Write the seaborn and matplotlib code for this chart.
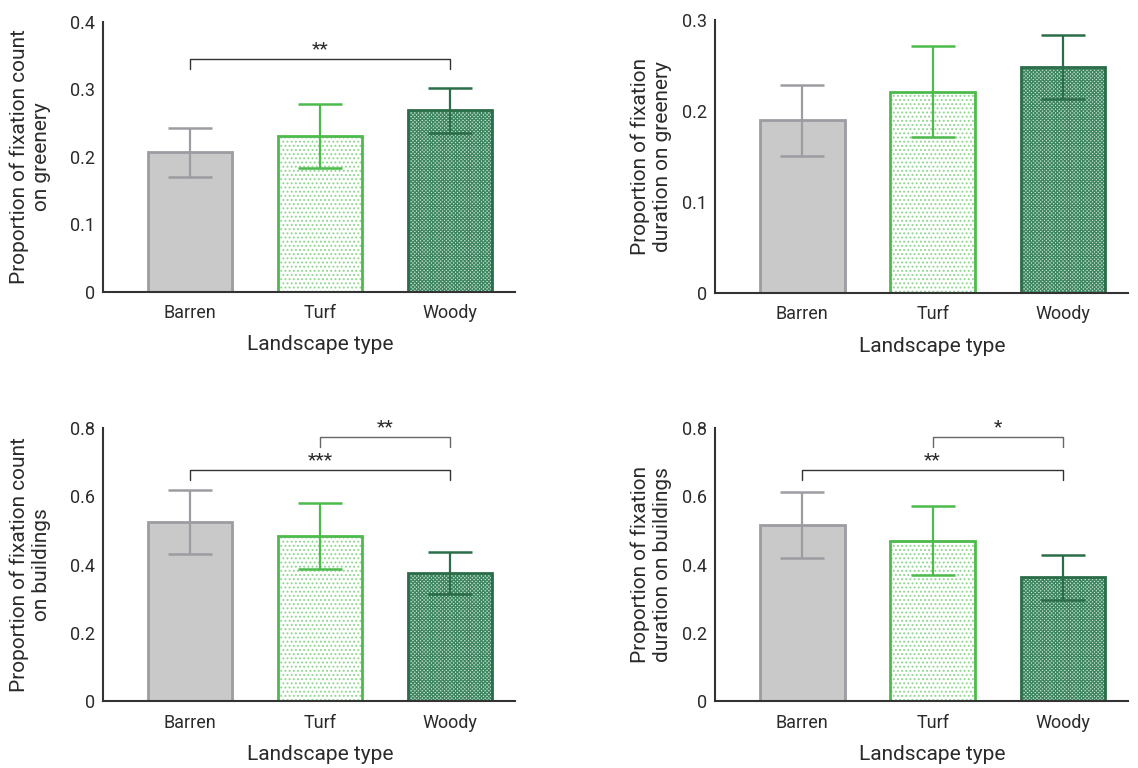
import numpy as np
import pandas as pd
import matplotlib
matplotlib.use("Agg")
import matplotlib.pyplot as plt
from matplotlib.patches import Rectangle
import seaborn as sns

# ---- data -------------------------------------------------------------
categories = ["Barren", "Turf", "Woody"]

count_greenery_mean = [0.207, 0.231, 0.269]
count_greenery_err = [0.036, 0.047, 0.033]

duration_greenery_mean = [0.190, 0.221, 0.248]
duration_greenery_err = [0.039, 0.050, 0.035]

count_buildings_mean = [0.524, 0.484, 0.375]
count_buildings_err = [0.094, 0.097, 0.062]

duration_buildings_mean = [0.515, 0.470, 0.363]
duration_buildings_err = [0.097, 0.102, 0.066]

y_labels = [
    "Proportion of fixation count\non greenery",
    "Proportion of fixation\nduration on greenery",
    "Proportion of fixation count\non buildings",
    "Proportion of fixation\nduration on buildings",
]
y_ticks_greenery_count = [0, 0.1, 0.2, 0.3, 0.4]
y_ticks_greenery_duration = [0, 0.1, 0.2, 0.3]
y_ticks_buildings = [0, 0.2, 0.4, 0.6, 0.8]

# significance brackets: (left category, right category, height, label)
sig_count_greenery = [("Barren", "Woody", 0.345, "**")]
sig_duration_greenery = []
sig_count_buildings = [("Turf", "Woody", 0.773, "**"), ("Barren", "Woody", 0.677, "***")]
sig_duration_buildings = [("Turf", "Woody", 0.773, "*"), ("Barren", "Woody", 0.677, "**")]

# ---- styling ----------------------------------------------------------
sns.set_style("white")
plt.rcParams["font.family"] = ["Roboto", "DejaVu Sans"]
plt.rcParams["hatch.linewidth"] = 0.9

face_colors = ["#c9c9c9", "#ffffff", "#cde6d9"]
edge_colors = ["#9c9ca2", "#4cbb4c", "#2b6d48"]
hatch_colors = [None, "#8fd68f", "#3d8660"]
hatches = [None, "....", "x" * 9]
text_color = "#2b2b2b"

fig = plt.figure(figsize=(11.38, 7.68), dpi=100)

panels = [
    dict(rect=[0.0905, 0.6198, 0.362, 0.3516], mean=count_greenery_mean,
         err=count_greenery_err, ticks=y_ticks_greenery_count,
         ylabel=y_labels[0], sig=sig_count_greenery, labx=-0.125),
    dict(rect=[0.6283, 0.6185, 0.363, 0.3555], mean=duration_greenery_mean,
         err=duration_greenery_err, ticks=y_ticks_greenery_duration,
         ylabel=y_labels[1], sig=sig_duration_greenery, labx=-0.105),
    dict(rect=[0.0905, 0.0872, 0.362, 0.3555], mean=count_buildings_mean,
         err=count_buildings_err, ticks=y_ticks_buildings,
         ylabel=y_labels[2], sig=sig_count_buildings, labx=-0.125),
    dict(rect=[0.6283, 0.0872, 0.363, 0.3555], mean=duration_buildings_mean,
         err=duration_buildings_err, ticks=y_ticks_buildings,
         ylabel=y_labels[3], sig=sig_duration_buildings, labx=-0.105),
]

for p in panels:
    ax = fig.add_axes(p["rect"])
    df = pd.DataFrame({"Landscape type": categories, "value": p["mean"]})
    sns.barplot(data=df, x="Landscape type", y="value", hue="Landscape type",
                order=categories, hue_order=categories, palette=face_colors,
                width=0.65, errorbar=None, legend=False, saturation=1,
                linewidth=0, ax=ax)

    # texture overlay and outline for every bar
    for i, patch in enumerate(ax.patches[:len(categories)]):
        patch.set_zorder(1)
        x0, y0 = patch.get_x(), patch.get_y()
        w, h = patch.get_width(), patch.get_height()
        if hatches[i]:
            ax.add_patch(Rectangle((x0, y0), w, h, facecolor="none",
                                   edgecolor=hatch_colors[i], linewidth=0,
                                   hatch=hatches[i], zorder=1.5))
        ax.add_patch(Rectangle((x0, y0), w, h, facecolor="none",
                               edgecolor=edge_colors[i], linewidth=2.0,
                               zorder=2))

    # standard-error bars
    for i, cat in enumerate(categories):
        ax.errorbar(i, p["mean"][i], yerr=p["err"][i], fmt="none",
                    ecolor=edge_colors[i], elinewidth=1.6, capsize=15.5,
                    capthick=1.8, zorder=3)

    # significance brackets
    top = p["ticks"][-1]
    drop = top * 0.035
    for k, (a, b, yb, lab) in enumerate(p["sig"]):
        xa, xb = categories.index(a), categories.index(b)
        lc = "#333333" if k == len(p["sig"]) - 1 else "#666666"
        ax.plot([xa, xa, xb, xb], [yb - drop, yb, yb, yb - drop],
                color=lc, linewidth=1.0, zorder=3, clip_on=False)
        ax.text((xa + xb) / 2, yb + top * 0.004, lab, ha="center", va="bottom",
                fontsize=14, color=text_color)

    ax.set_xlim(-0.67, 2.5)
    ax.set_ylim(0, top)
    ax.set_yticks(p["ticks"])
    ax.set_yticklabels(["0" if t == 0 else f"{t:g}" for t in p["ticks"]])
    ax.tick_params(axis="both", length=0, labelsize=13, colors=text_color,
                   pad=6)
    ax.tick_params(axis="x", pad=9)
    ax.set_xlabel("Landscape type", fontsize=15, color=text_color)
    ax.xaxis.set_label_coords(1.67 / 3.17, -0.16)
    ax.set_ylabel(p["ylabel"], fontsize=15, color=text_color, linespacing=1.2)
    ax.yaxis.set_label_coords(p["labx"], 0.5)
    sns.despine(ax=ax)
    for side in ["left", "bottom"]:
        ax.spines[side].set_color("#333333")
        ax.spines[side].set_linewidth(1.5)

fig.savefig("out.png", dpi=100)
